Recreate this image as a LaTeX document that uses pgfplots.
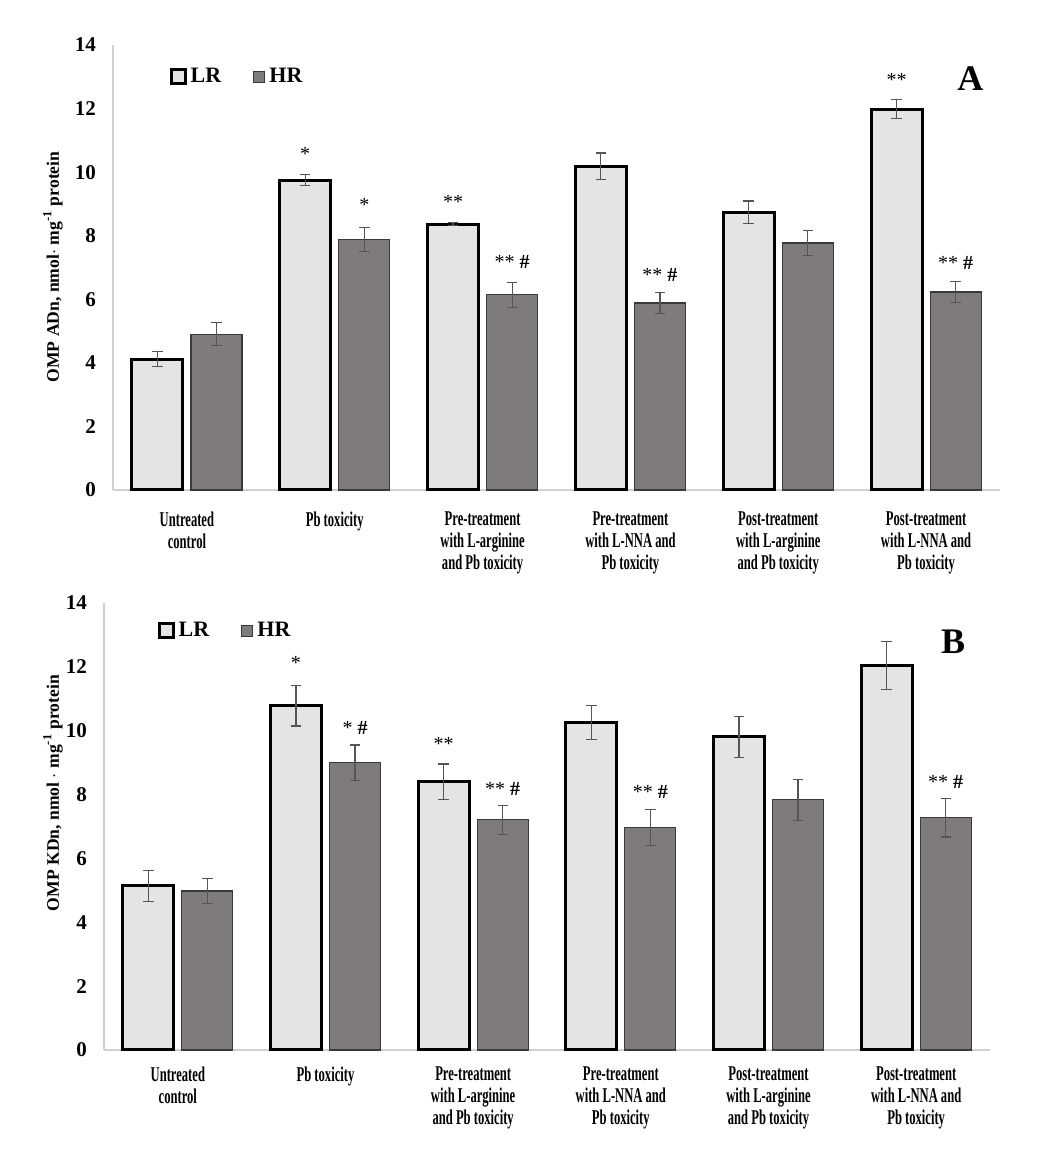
\documentclass[border=0pt]{standalone}
\usepackage{fontspec}
\setmainfont{Liberation Serif}
\newfontfamily\condfont{Liberation Serif}[FakeStretch=0.6]
\usepackage{pgfplots}
\pgfplotsset{compat=1.18}
\usepackage{pgfplotstable}
\definecolor{lrfill}{HTML}{E4E4E4}
\definecolor{hrfill}{HTML}{7F7B7B}
\definecolor{hredge}{HTML}{3A3A3A}
\definecolor{errc}{HTML}{555555}
\definecolor{axc}{HTML}{D0D0D0}

\pgfplotstableread{
x y e
0 4.12 0.24
1 9.75 0.17
2 8.36 0.05
3 10.19 0.41
4 8.74 0.35
5 11.98 0.30
}\ALR
\pgfplotstableread{
x y e
0 4.90 0.36
1 7.89 0.38
2 6.14 0.40
3 5.88 0.33
4 7.77 0.40
5 6.23 0.33
}\AHR
\pgfplotstableread{
x y e
0 5.14 0.49
1 10.78 0.63
2 8.40 0.56
3 10.25 0.53
4 9.81 0.64
5 12.04 0.75
}\BLR
\pgfplotstableread{
x y e
0 4.98 0.40
1 9.00 0.55
2 7.21 0.45
3 6.96 0.56
4 7.84 0.64
5 7.27 0.60
}\BHR

\pgfplotsset{
  panel/.style={
    scale only axis,
    width=443.5pt, height=222.5pt,
    anchor=south west,
    xmin=-0.5, xmax=5.5, ymin=0, ymax=14,
    axis x line*=bottom, axis y line*=left,
    axis line style={axc, line width=0.6pt},
    major tick length=0pt,
    ytick={0,2,...,14},
    xtick={0,...,5},
    xticklabels={{Untreated\\control},{Pb toxicity},{Pre-treatment\\with L-arginine\\and Pb toxicity},{Pre-treatment\\with L-NNA and\\Pb toxicity},{Post-treatment\\with L-arginine\\and Pb toxicity},{Post-treatment\\with L-NNA and\\Pb toxicity}},
    xticklabel style={align=center, font=\condfont\bfseries\fontsize{10.5}{11}\selectfont, anchor=north},
    yticklabel style={font=\bfseries\fontsize{10.5}{12}\selectfont, xshift=-5pt},
    /pgf/number format/assume math mode=true,
    ybar, bar width=0.345,
    legend columns=2,
    legend style={draw=none, fill=none, font=\bfseries\fontsize{11}{13}\selectfont,
      /tikz/every even column/.append style={column sep=14pt}},
    clip=false,
  },
  lrbar/.style={fill=lrfill, draw=black, line width=1.5pt, bar shift=-0.2,
    error bars/.cd, y dir=both, y explicit,
    error bar style={errc, line width=0.6pt},
    error mark options={errc, line width=0.6pt, rotate=90, mark size=2.6pt}},
  hrbar/.style={fill=hrfill, draw=hredge, line width=0.6pt, bar shift=0.2,
    error bars/.cd, y dir=both, y explicit,
    error bar style={errc, line width=0.6pt},
    error mark options={errc, line width=0.6pt, rotate=90, mark size=2.6pt}},
  lrleg/.style={legend image code/.code={\draw[fill=lrfill, draw=black, line width=1.5pt] (0pt,-3.4pt) rectangle (7pt,3.4pt);}},
  hrleg/.style={legend image code/.code={\draw[fill=hrfill, draw=hredge, line width=0.6pt] (0pt,-2.8pt) rectangle (5.5pt,2.8pt);}},
}

\begin{document}
\begin{tikzpicture}
\path[use as bounding box] (0pt,0pt) rectangle (519pt,583.5pt);

% Panel A
\begin{axis}[panel, at={(56.5pt,338.5pt)},
  xticklabel style={yshift=-7.5pt},
  legend style={at={(axis cs:-0.16,13.0)}, anchor=west}]
\addplot[lrleg, lrbar] table[x=x, y=y, y error=e] {\ALR};
\addlegendentry{LR}
\addplot[hrleg, hrbar] table[x=x, y=y, y error=e] {\AHR};
\addlegendentry{HR}
\node[font=\fontsize{10}{12}\selectfont] at (axis cs:0.8,10.57) {*};
\node[font=\fontsize{10}{12}\selectfont] at (axis cs:1.2,8.96) {*};
\node[font=\fontsize{10}{12}\selectfont] at (axis cs:1.8,9.06) {**};
\node[font=\fontsize{10}{12}\selectfont] at (axis cs:2.2,7.17) {** \textbf{\#}};
\node[font=\fontsize{10}{12}\selectfont] at (axis cs:3.2,6.76) {** \textbf{\#}};
\node[font=\fontsize{10}{12}\selectfont] at (axis cs:4.8,12.9) {**};
\node[font=\fontsize{10}{12}\selectfont] at (axis cs:5.2,7.14) {** \textbf{\#}};
\node[font=\bfseries\fontsize{18}{20}\selectfont] at (axis cs:5.3,12.95) {A};
\end{axis}

% Panel B
\begin{axis}[panel, at={(52pt,58.5pt)}, width=443pt, height=223.5pt,
  xticklabel style={yshift=-5pt},
  legend style={at={(axis cs:-0.18,13.13)}, anchor=west}]
\addplot[lrleg, lrbar] table[x=x, y=y, y error=e] {\BLR};
\addlegendentry{LR}
\addplot[hrleg, hrbar] table[x=x, y=y, y error=e] {\BHR};
\addlegendentry{HR}
\node[font=\fontsize{10}{12}\selectfont] at (axis cs:0.8,12.13) {*};
\node[font=\fontsize{10}{12}\selectfont] at (axis cs:1.2,10.1) {* \textbf{\#}};
\node[font=\fontsize{10}{12}\selectfont] at (axis cs:1.8,9.6) {**};
\node[font=\fontsize{10}{12}\selectfont] at (axis cs:2.2,8.18) {** \textbf{\#}};
\node[font=\fontsize{10}{12}\selectfont] at (axis cs:3.2,8.09) {** \textbf{\#}};
\node[font=\fontsize{10}{12}\selectfont] at (axis cs:5.2,8.4) {** \textbf{\#}};
\node[font=\bfseries\fontsize{18}{20}\selectfont] at (axis cs:5.25,12.8) {B};
\end{axis}

\node[rotate=90, font=\bfseries\fontsize{8.8}{10}\selectfont] at (26.5pt,450pt) {OMP ADn, nmol$\cdot$ mg\textsuperscript{-1} protein};
\node[rotate=90, font=\bfseries\fontsize{8.8}{10}\selectfont] at (26.5pt,187pt) {OMP KDn, nmol $\cdot$ mg\textsuperscript{-1} protein};
\end{tikzpicture}
\end{document}
